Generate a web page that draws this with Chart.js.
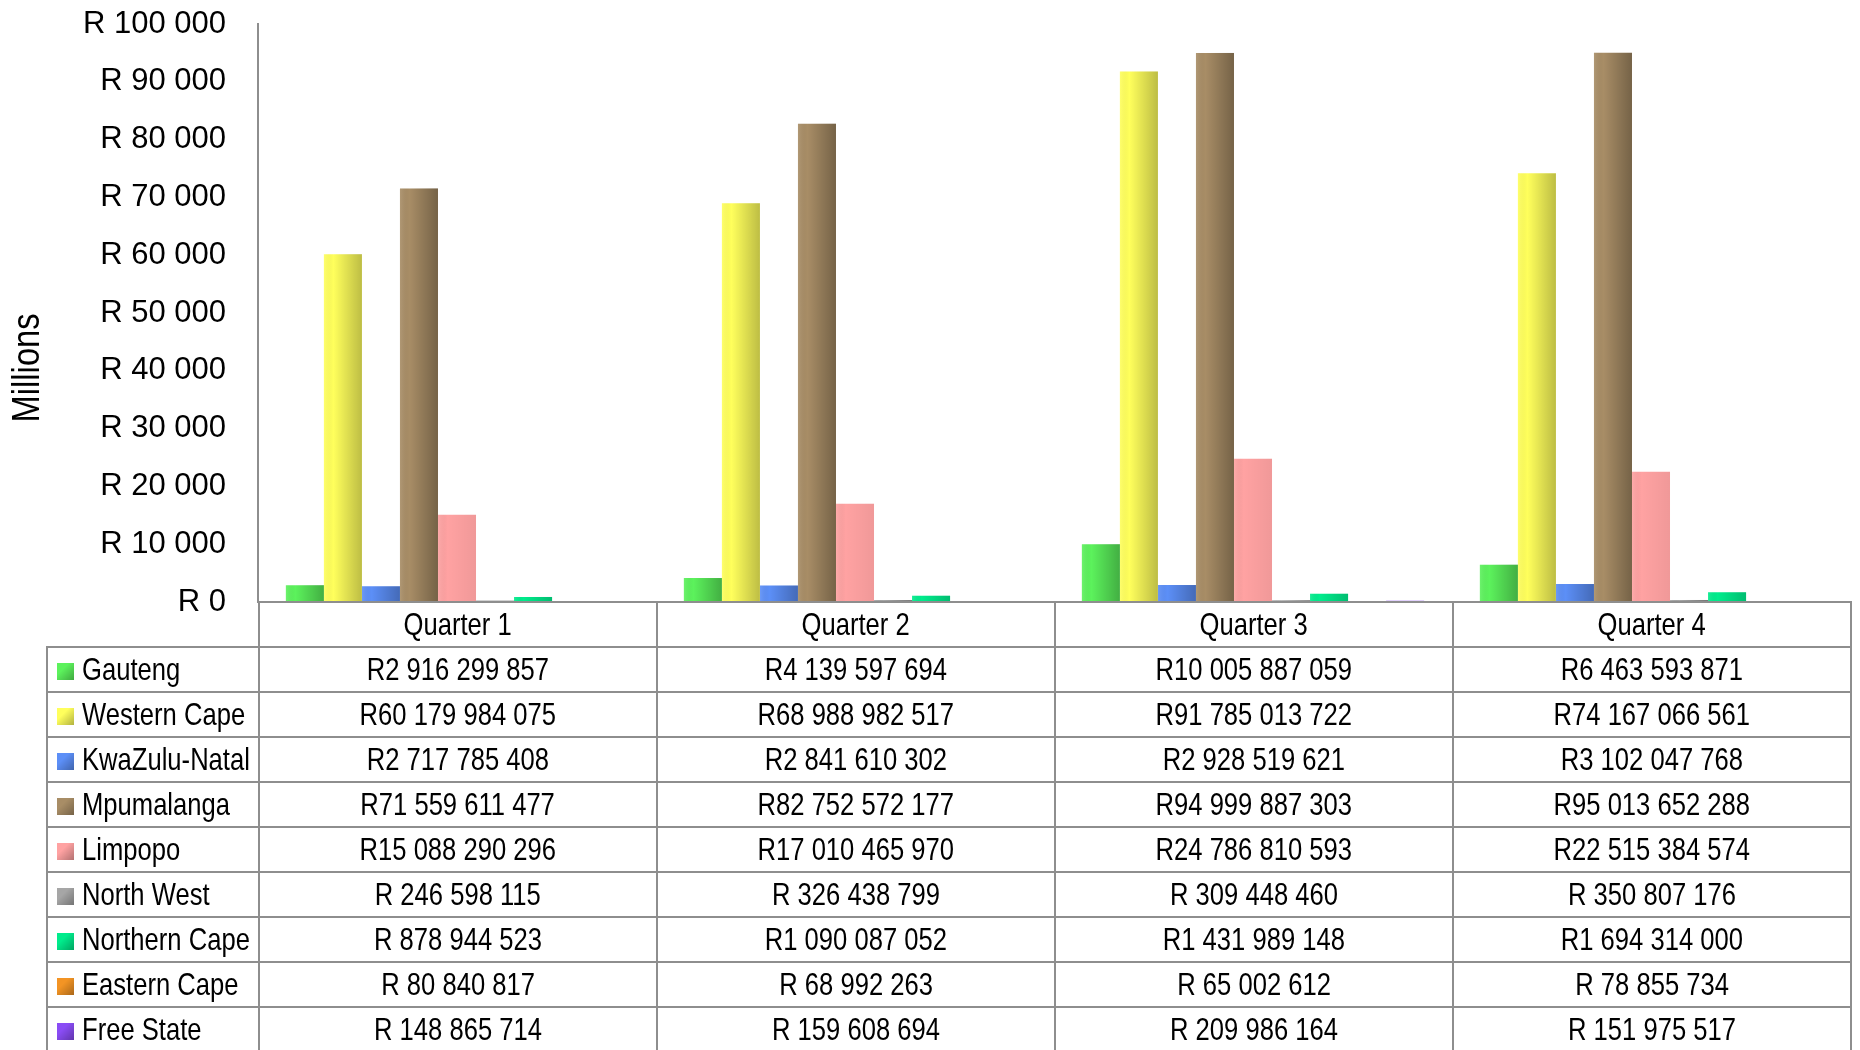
<!DOCTYPE html>
<html lang="en">
<head>
    <meta charset="UTF-8">
    <title>Provincial Quarterly Values</title>
    <script src="https://cdn.jsdelivr.net/npm/chart.js"></script>
    <style>
        body {
            margin: 0;
            padding: 0;
            background: #fff;
            font-family: 'Liberation Sans', Arial, sans-serif;
        }

        .wrap {
            position: relative;
            width: 1860px;
            height: 1050px;
            overflow: hidden;
        }

        #chart {
            position: absolute;
            left: 0;
            top: 0;
        }

        #data-table {
            position: absolute;
            top: 601px;
            border-collapse: collapse;
            table-layout: fixed;
            font-size: 32px;
            color: #000;
        }

        #data-table td {
            border: 2px solid #8e8e8e;
            height: 43px;
            padding: 0;
            text-align: center;
            white-space: nowrap;
            line-height: 43px;
            overflow: visible;
        }

        #data-table td.blank {
            border: none;
            border-bottom: 2px solid #8e8e8e;
        }

        #data-table td.name {
            text-align: left;
            padding-left: 9px;
        }

        /* narrow look of the original table font */
        .narrow {
            display: inline-block;
            transform: scaleX(0.8);
            transform-origin: center;
        }

        td.name .narrow {
            transform-origin: left center;
        }

        .swatch {
            display: inline-block;
            width: 17px;
            height: 17px;
            margin-right: 8px;
            vertical-align: 0px;
        }
    </style>
</head>
<body>
    <div class="wrap">
        <canvas id="chart" width="1860" height="1050"></canvas>
        <table id="data-table"></table>
    </div>

    <script>
        // values in Rand, per quarter
        const quarters = ['Quarter 1', 'Quarter 2', 'Quarter 3', 'Quarter 4'];

        const gauteng      = [2916299857, 4139597694, 10005887059, 6463593871];
        const westernCape  = [60179984075, 68988982517, 91785013722, 74167066561];
        const kwaZuluNatal = [2717785408, 2841610302, 2928519621, 3102047768];
        const mpumalanga   = [71559611477, 82752572177, 94999887303, 95013652288];
        const limpopo      = [15088290296, 17010465970, 24786810593, 22515384574];
        const northWest    = [246598115, 326438799, 309448460, 350807176];
        const northernCape = [878944523, 1090087052, 1431989148, 1694314000];
        const easternCape  = [80840817, 68992263, 65002612, 78855734];
        const freeState    = [148865714, 159608694, 209986164, 151975517];

        const yTicks = [0, 10000, 20000, 30000, 40000, 50000, 60000, 70000, 80000, 90000, 100000];
        const yTitle = 'Millions';

        const series = [
            { name: 'Gauteng',       values: gauteng,      color: '#5cf25c', shade: 0.28 },
            { name: 'Western Cape',  values: westernCape,  color: '#ffff5c', shade: 0.26 },
            { name: 'KwaZulu-Natal', values: kwaZuluNatal, color: '#5c8ff7', shade: 0.26 },
            { name: 'Mpumalanga',    values: mpumalanga,   color: '#a88d66', shade: 0.3 },
            { name: 'Limpopo',       values: limpopo,      color: '#ffa2a2', shade: 0.06 },
            { name: 'North West',    values: northWest,    color: '#a6a6a6', shade: 0.3 },
            { name: 'Northern Cape', values: northernCape, color: '#00ec8c', shade: 0.2 },
            { name: 'Eastern Cape',  values: easternCape,  color: '#f39424', shade: 0.3 },
            { name: 'Free State',    values: freeState,    color: '#8a4cf5', shade: 0.3 }
        ];

        const spaced = n => String(Math.round(n)).replace(/\B(?=(\d{3})+(?!\d))/g, ' ');
        const rand = v => (v < 1e9 ? 'R ' : 'R') + spaced(v);

        // darker gradient over each bar, light on the left
        const shadePlugin = {
            id: 'shade',
            afterDatasetsDraw(chart) {
                const ctx = chart.ctx;
                chart.data.datasets.forEach((ds, i) => {
                    const amount = series[i].shade;
                    chart.getDatasetMeta(i).data.forEach(bar => {
                        const { x, y, base, width } = bar.getProps(['x', 'y', 'base', 'width'], true);
                        if (base - y < 1) return;
                        const l = x - width / 2;
                        const g = ctx.createLinearGradient(l, 0, l + width, 0);
                        g.addColorStop(0, 'rgba(255,255,255,0.1)');
                        g.addColorStop(0.25, 'rgba(0,0,0,0)');
                        g.addColorStop(1, 'rgba(0,0,0,' + amount + ')');
                        ctx.save();
                        ctx.fillStyle = g;
                        ctx.fillRect(l, y, width, base - y);
                        ctx.restore();
                    });
                });
            }
        };

        // axis title sits a bit below the middle of the axis, like the original
        const yTitlePlugin = {
            id: 'yTitle',
            afterDraw(chart) {
                const { ctx, chartArea } = chart;
                const y = chartArea.top + (chartArea.bottom - chartArea.top) * 0.595;
                ctx.save();
                ctx.translate(29, y);
                ctx.rotate(-Math.PI / 2);
                ctx.scale(0.86, 1);
                ctx.font = '38px "Liberation Sans"';
                ctx.fillStyle = '#000';
                ctx.textAlign = 'center';
                ctx.textBaseline = 'middle';
                ctx.fillText(yTitle, 0, 0);
                ctx.restore();
            }
        };

        const ctx = document.getElementById('chart').getContext('2d');
        const chart = new Chart(ctx, {
            type: 'bar',
            data: {
                labels: quarters,
                datasets: series.map(s => ({
                    label: s.name,
                    data: s.values.map(v => v / 1e6),
                    backgroundColor: s.color,
                    borderWidth: 0,
                    categoryPercentage: 0.86,
                    barPercentage: 1.0
                }))
            },
            options: {
                responsive: false,
                animation: false,
                layout: {
                    padding: { top: 24, right: 10, bottom: 448, left: 0 }
                },
                plugins: {
                    legend: { display: false },
                    tooltip: { enabled: false }
                },
                scales: {
                    x: {
                        ticks: { display: false },
                        grid: { display: false, drawTicks: false },
                        border: { color: '#8e8e8e', width: 2 },
                        afterFit(scale) { scale.height = 0; }
                    },
                    y: {
                        min: 0,
                        max: 100000,
                        afterBuildTicks(scale) {
                            scale.ticks = yTicks.map(v => ({ value: v }));
                        },
                        ticks: {
                            padding: 2,
                            color: '#000',
                            font: { family: 'Liberation Sans', size: 31 },
                            callback: v => 'R ' + spaced(v)
                        },
                        // invisible tick marks keep the labels away from the axis
                        grid: {
                            display: true,
                            drawOnChartArea: false,
                            drawTicks: true,
                            tickLength: 30,
                            color: 'rgba(0,0,0,0)'
                        },
                        border: { color: '#8e8e8e', width: 2 },
                        afterFit(scale) { scale.width = 258; }
                    }
                }
            },
            plugins: [shadePlugin, yTitlePlugin]
        });

        // data table under the plot, columns lined up with the category axis
        const xs = chart.scales.x;
        const tableLeft = 46;
        const colW = (xs.right - xs.left) / quarters.length;
        const table = document.getElementById('data-table');
        table.style.left = tableLeft + 'px';
        table.style.width = (xs.right - tableLeft) + 'px';

        let html = '<colgroup><col style="width:' + (xs.left - tableLeft) + 'px">';
        quarters.forEach(() => { html += '<col style="width:' + colW + 'px">'; });
        html += '</colgroup><tr><td class="blank"></td>';
        quarters.forEach(q => { html += '<td><span class="narrow">' + q + '</span></td>'; });
        html += '</tr>';
        series.forEach(s => {
            html += '<tr><td class="name"><span class="swatch" style="background-color:' + s.color +
                ';background-image:linear-gradient(135deg, rgba(255,255,255,0) 35%, rgba(0,0,0,0.3) 100%)"></span>' +
                '<span class="narrow">' + s.name + '</span></td>';
            s.values.forEach(v => { html += '<td><span class="narrow">' + rand(v) + '</span></td>'; });
            html += '</tr>';
        });
        table.innerHTML = html;
    </script>
</body>
</html>
